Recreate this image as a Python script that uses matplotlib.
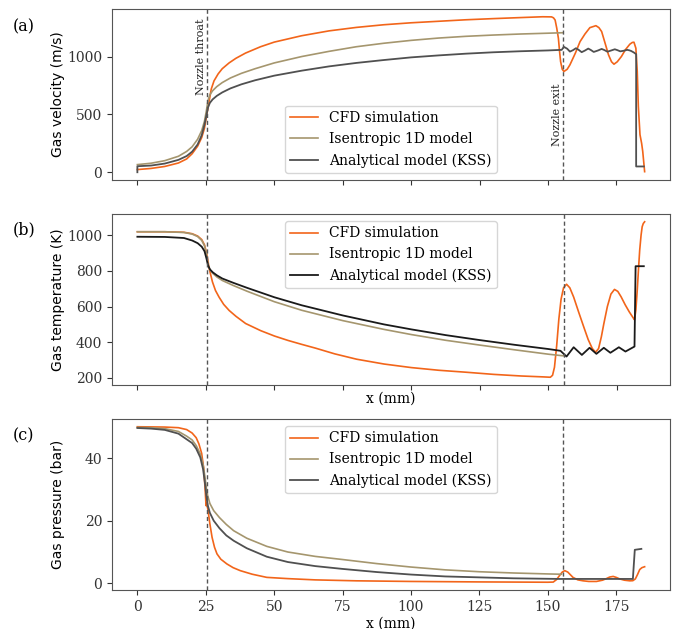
import matplotlib
matplotlib.use('Agg')
import matplotlib.pyplot as plt

# ---- data ----
throat_x = 25.5
exit_x = 155.6

# (a) gas velocity (m/s)
x_cfd_a = [0, 5, 10, 15, 18, 20, 22, 23.5, 24.5, 25.3, 26.2, 27, 28, 29.5, 31, 33.5, 36, 39.5,
           45, 50, 60, 70, 80, 90, 100, 110, 120, 130, 140, 148, 151.3, 152.0, 152.6, 153.2,
           153.8, 154.2, 154.6, 155.2, 155.8, 157, 158, 160, 161.7, 163.5, 165.3, 167.5, 168.6,
           169.6, 170.8, 172.1, 173.2, 174.1, 175.3, 176.8, 178.3, 179.9, 180.8, 181.4, 182.1,
           182.6, 183.0, 183.6, 184.2, 184.6, 185.3]
v_cfd = [23, 33, 50, 80, 115, 160, 225, 300, 380, 490, 612, 720, 790, 850, 895, 945, 985, 1030,
         1085, 1125, 1180, 1222, 1252, 1275, 1292, 1305, 1318, 1328, 1337, 1344, 1343, 1335, 1316, 1245,
         1158, 1050, 957, 890, 871, 890, 928, 1030, 1129, 1195, 1250, 1267, 1250,
         1216, 1120, 1015, 955, 934, 955, 1000, 1060, 1107, 1122, 1124, 1072,
         871, 569, 325, 250, 181, 5]

x_isen_a = [0, 5, 10, 15, 18, 20, 22, 23.5, 24.5, 25.2, 25.8, 26.5, 27.5, 29, 31, 34, 38, 43,
            50, 60, 70, 80, 90, 100, 110, 120, 130, 140, 150, 155.4]
v_isen = [66, 78, 100, 138, 180, 220, 285, 360, 440, 530, 620, 670, 705, 740, 775, 815, 855, 895,
          945, 1000, 1045, 1085, 1115, 1140, 1160, 1175, 1186, 1195, 1202, 1206]

x_kss_a = [0, 0, 5, 10, 15, 18, 20, 22, 23.5, 24.5, 25.2, 25.8, 26.5, 27.5, 29, 31, 34, 38, 43,
           50, 60, 70, 80, 90, 100, 110, 120, 130, 140, 150, 155,
           155.8, 157, 158, 159.1, 160.2, 161.2, 162.3, 163.5, 164.7, 165.7, 166.7, 168.2, 169.6,
           170.6, 171.7, 173, 174.4, 175.4, 176.4, 177.6, 178.9, 179.7, 180.4, 181.3, 182.2,
           182.2, 185]
v_kss = [0, 52, 58, 75, 107, 140, 178, 240, 320, 410, 490, 560, 600, 630, 660, 690, 725, 760, 795,
         835, 878, 915, 945, 970, 993, 1010, 1025, 1037, 1046, 1053, 1058,
         1084, 1068, 1043, 1055, 1072, 1058, 1038, 1052, 1069, 1056, 1040, 1052, 1066,
         1056, 1042, 1052, 1063, 1055, 1045, 1050, 1058, 1054, 1048, 1036, 1021,
         50, 50]

# (b) gas temperature (K)
x_cfd_b = [0, 10, 17, 20, 22, 23.5, 24.5, 25.3, 26.2, 27.4, 28.5, 29.8, 31.5, 33.5, 36, 39.5,
           45, 50, 55, 60, 65, 72, 80, 90, 100, 110, 120, 130, 140, 148, 150.7,
           151.5, 152.2, 153, 153.8, 154.6, 155.5, 156.6, 157.8, 159.2, 161, 162.9, 164.5, 166,
           167.2, 168.3, 169.3, 170.2, 171.5, 172.8, 174.1, 175.3, 176.5, 178, 179.5, 181, 181.4,
           181.9, 182.4, 182.9, 183.3, 183.8, 184.2, 184.6, 185.1]
T_cfd = [1019, 1019, 1016, 1008, 995, 975, 945, 897, 813, 738, 690, 653, 612, 578, 545, 505,
         465, 435, 410, 388, 367, 335, 305, 278, 258, 243, 232, 220, 211, 206, 204,
         215, 260, 380, 530, 640, 705, 725, 705, 653, 570, 485, 415, 365,
         344, 365, 430, 503, 600, 670, 696, 685, 655, 610, 570, 535, 526,
         580, 691, 820, 916, 1000, 1047, 1065, 1075]

x_isen_b = [0, 10, 17, 20, 22, 23.5, 24.5, 25.2, 25.8, 26.5, 27.5, 29, 31, 35, 40, 50, 60, 75,
            90, 100, 112.5, 125, 137.5, 150, 155.4]
T_isen = [1019, 1019, 1015, 1006, 992, 970, 940, 895, 835, 805, 786, 766, 746, 718, 686, 627,
          579, 521, 472, 443, 411, 384, 358, 333, 324]

x_kss_b = [0, 10, 17, 20, 22, 23.5, 24.5, 25.2, 25.8, 26.5, 27.5, 29, 31, 35, 40, 50, 60, 75,
           90, 100, 112.5, 125, 137.5, 150, 154.4,
           156.6, 159.2, 162.2, 165, 167.5, 170.2, 172.6, 175.7, 178.1, 181.4, 181.8, 184.8]
T_kss = [991, 990, 984, 970, 955, 935, 910, 870, 830, 808, 792, 775, 757, 733, 705, 652, 607, 550,
         500, 472, 440, 412, 386, 362, 352,
         320, 372, 329, 369, 335, 369, 341, 372, 348, 376, 826, 826]

# (c) gas pressure (bar)
x_cfd_c = [0, 10, 15, 18, 20, 21.5, 22.5, 23.5, 24.2, 24.7, 25.1, 25.3, 25.8, 26.5, 27.3, 28.2,
           29.1, 30.5, 32.7, 35, 37.6, 42, 47.3, 55, 65, 80, 100, 125, 150, 152, 153.2, 154.4,
           155.3, 156.2, 157.3, 159.2, 161, 162.9, 165, 167.8, 170, 171.4, 172.6, 173.9, 175,
           176.3, 178, 180, 181.1, 182, 182.8, 183.6, 184.4, 185.4]
P_cfd = [50.0, 49.9, 49.7, 49.1, 48.0, 46.5, 44.5, 41.5, 37.0, 31.0, 24.8, 25.6, 23.5, 19.0, 14.7, 11.5,
         9.4, 7.7, 6.2, 5.0, 4.05, 2.9, 1.9, 1.5, 1.1, 0.8, 0.6, 0.45, 0.35, 0.4, 1.2, 2.6,
         3.6, 4.05, 3.6, 1.9, 1.1, 0.8, 0.6, 0.6, 1.0, 1.5, 2.0, 2.2, 1.9,
         1.4, 1.0, 0.8, 0.85, 1.4, 2.8, 4.4, 5.0, 5.3]

x_isen_c = [0, 5, 10, 15, 18, 20, 21.5, 23, 24, 24.7, 25.2, 25.7, 26.5, 27.9, 30, 32.5, 35.2, 40,
            47.3, 55, 65, 75, 87.5, 100, 112.5, 125, 137.5, 150, 155]
P_isen = [49.8, 49.7, 49.4, 48.5, 47.0, 45.8, 44.0, 41.3, 38.0, 34.0, 30.5, 28.0, 25.5, 23.2, 21.0,
          18.8, 16.8, 14.4, 11.8, 10.0, 8.6, 7.6, 6.3, 5.2, 4.3, 3.7, 3.3, 3.0, 2.9]

x_kss_c = [0, 5, 10, 15, 18, 20, 21.5, 23, 24, 24.7, 25.2, 25.7, 26.5, 27.9, 30, 32.5, 35.2, 40,
           47.3, 55, 65, 75, 87.5, 100, 112.5, 125, 137.5, 150, 154.4, 181.1, 181.8, 184.2]
P_kss = [49.6, 49.4, 49.0, 47.8, 46.0, 44.8, 43.0, 40.2, 36.5, 32.0, 28.0, 25.0, 22.5, 20.0, 17.6,
         15.3, 13.6, 11.2, 8.5, 6.8, 5.5, 4.6, 3.6, 2.8, 2.2, 1.9, 1.6, 1.45, 1.4, 1.4, 10.7, 11.0]

labels = ['CFD simulation', 'Isentropic 1D model', 'Analytical model (KSS)']
x_ticks = [0, 25, 50, 75, 100, 125, 150, 175]

# ---- style ----
plt.rcParams['font.family'] = 'DejaVu Serif'
plt.rcParams['font.size'] = 10
c_cfd = '#f2651a'
c_isen = '#a5966e'
c_kss = '#505050'
c_frame = '#555555'

fig = plt.figure(figsize=(6.78, 6.29), dpi=100)
ax_a = fig.add_axes([0.1652, 0.7138, 0.823, 0.2719])
ax_b = fig.add_axes([0.1652, 0.3879, 0.823, 0.2719])
ax_c = fig.add_axes([0.1652, 0.0620, 0.823, 0.2719])

panels = [
    (ax_a, x_cfd_a, v_cfd, x_isen_a, v_isen, x_kss_a, v_kss, c_kss, 'Gas velocity (m/s)', 'lower center'),
    (ax_b, x_cfd_b, T_cfd, x_isen_b, T_isen, x_kss_b, T_kss, '#1a1a1a', 'Gas temperature (K)', 'upper center'),
    (ax_c, x_cfd_c, P_cfd, x_isen_c, P_isen, x_kss_c, P_kss, c_kss, 'Gas pressure (bar)', 'upper center'),
]

for ax, xc, yc, xi, yi, xk, yk, ck, ylab, loc in panels:
    ax.plot(xc, yc, color=c_cfd, lw=1.2, label=labels[0])
    ax.plot(xi, yi, color=c_isen, lw=1.2, label=labels[1])
    ax.plot(xk, yk, color=ck, lw=1.3, label=labels[2])
    ax.axvline(throat_x, color=c_frame, ls='--', lw=1.0, dashes=(3, 2))
    ax.axvline(exit_x, color=c_frame, ls='--', lw=1.0, dashes=(3, 2))
    ax.set_xticks(x_ticks)
    ax.set_ylabel(ylab, family='DejaVu Sans', fontsize=10)
    ax.yaxis.set_label_coords(-0.085, 0.5)
    ax.legend(loc=loc, fontsize=10)
    for sp in ax.spines.values():
        sp.set_color(c_frame)
    ax.tick_params(colors='#333333', length=3.5)

ax_a.tick_params(labelbottom=False)
ax_b.tick_params(labelbottom=False)
ax_b.set_xlabel('x (mm)', labelpad=1)
ax_c.set_xlabel('x (mm)', labelpad=2)

ax_a.set_yticks([0, 500, 1000])
ax_b.set_yticks([200, 400, 600, 800, 1000])
ax_c.set_yticks([0, 20, 40])

# nozzle throat / exit labels
ax_a.text(throat_x - 0.6, 1000, 'Nozzle throat', rotation=90, ha='right', va='center',
          fontsize=8, color='#222222')
ax_a.text(exit_x - 0.6, 500, 'Nozzle exit', rotation=90, ha='right', va='center',
          fontsize=8, color='#222222')

fig.text(0.019, 0.957, '(a)', fontsize=11.5, va='center')
fig.text(0.019, 0.634, '(b)', fontsize=11.5, va='center')
fig.text(0.019, 0.307, '(c)', fontsize=11.5, va='center')

fig.savefig('out.png', dpi=100)
